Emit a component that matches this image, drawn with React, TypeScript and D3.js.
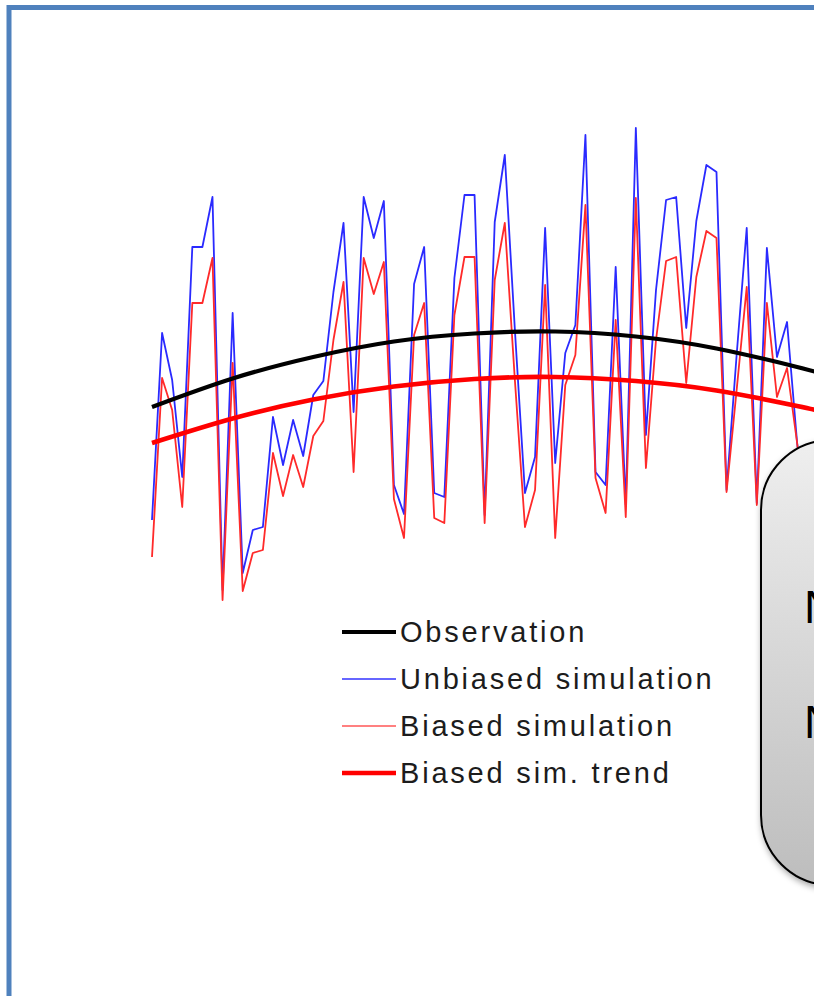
import React from 'react';
import * as d3 from 'd3';

// simulated series (arbitrary units, 0..10)
const unbiased = [
  2.00, 5.74, 4.80, 2.86, 7.46, 7.46, 8.46, 0.60, 6.14, 0.94,
  1.80, 1.86, 4.06, 3.10, 4.00, 3.28, 4.50, 4.78, 6.56, 7.94,
  4.16, 8.46, 7.64, 8.38, 2.70, 2.12, 6.72, 7.46, 2.54, 2.46,
  6.84, 8.50, 8.50, 2.10, 7.96, 9.30, 5.80, 2.54, 3.26, 7.84,
  3.14, 5.34, 5.90, 9.70, 2.96, 2.70, 7.06, 2.30, 9.84, 3.70,
  6.60, 8.40, 8.46, 5.84, 7.98, 9.10, 8.96, 2.60, 5.30, 7.84,
  2.34, 7.44, 5.26, 5.96, 3.54, 2.00,
];

const biased = [
  1.26, 4.84, 4.20, 2.26, 6.34, 6.34, 7.24, 0.40, 5.14, 0.58,
  1.34, 1.40, 3.34, 2.48, 3.30, 2.66, 3.68, 3.98, 5.60, 6.76,
  2.96, 7.24, 6.52, 7.16, 2.42, 1.64, 5.70, 6.34, 2.04, 1.94,
  6.10, 7.26, 7.26, 1.94, 6.80, 7.94, 4.80, 1.86, 2.60, 6.70,
  1.64, 4.70, 5.30, 8.30, 2.84, 2.14, 6.00, 2.06, 8.44, 3.04,
  5.60, 7.18, 7.26, 4.74, 6.86, 7.78, 7.64, 2.56, 4.60, 6.66,
  2.30, 6.34, 4.46, 5.04, 3.54, 1.80,
];

// smooth trends, sampled at these steps
const trendSteps = [0, 8, 16, 24, 32, 40, 48, 56, 64, 66];
const observation = [4.26, 4.83, 5.26, 5.57, 5.73, 5.77, 5.67, 5.43, 5.06, 4.95];
const biasedTrend = [3.54, 4.03, 4.41, 4.67, 4.82, 4.86, 4.78, 4.59, 4.28, 4.19];

const legendLabels = ['Observation', 'Unbiased simulation', 'Biased simulation', 'Biased sim. trend'];
const legendColors = ['#000000', '#3333ff', '#ff8080', '#ff0000'];
const legendWidths = [4, 1.6, 2, 4.5];

const boxLines = ['N', 'N'];

export default function App() {
  const width = 814;
  const height = 996;

  const x = d3.scaleLinear().domain([0, 65]).range([152, 152 + 65 * 10.08]);
  const y = d3.scaleLinear().domain([0, 10]).range([620, 120]);

  const simLine = d3.line<number>()
    .x((_, i) => x(i))
    .y(d => y(d));

  const trendLine = d3.line<number>()
    .x((_, i) => x(trendSteps[i]))
    .y(d => y(d))
    .curve(d3.curveNatural);

  const font = '"Liberation Sans", Arial, Helvetica, sans-serif';

  return (
    <svg width={width} height={height} style={{ position: 'absolute', left: 0, top: 0 }}>
      <defs>
        <linearGradient id="boxFill" x1="0" y1="0" x2="0" y2="1">
          <stop offset="0" stopColor="#efefef" />
          <stop offset="1" stopColor="#bdbdbd" />
        </linearGradient>
        <filter id="shadow" x="-20%" y="-20%" width="140%" height="140%">
          <feDropShadow dx="1" dy="3" stdDeviation="3" floodColor="#000" floodOpacity="0.35" />
        </filter>
      </defs>

      <rect x={0} y={0} width={width} height={height} fill="#fff" />
      <rect x={9} y={7.5} width={900} height={1100} fill="none" stroke="#4f81bd" strokeWidth={5} />

      <path d={simLine(unbiased) || ''} fill="none" stroke="#2a2aff" strokeWidth={1.8} strokeLinejoin="round" />
      <path d={simLine(biased) || ''} fill="none" stroke="#ff2a2a" strokeWidth={1.8} strokeLinejoin="round" />
      <path d={trendLine(observation) || ''} fill="none" stroke="#000" strokeWidth={4.2} />
      <path d={trendLine(biasedTrend) || ''} fill="none" stroke="#ff0000" strokeWidth={4.6} />

      <g fontFamily={font} fontSize={29} fill="#1c1c1c">
        {legendLabels.map((label, i) => {
          const cy = 632 + i * 47;
          return (
            <g key={label}>
              <line x1={342} x2={396} y1={cy} y2={cy} stroke={legendColors[i]} strokeWidth={legendWidths[i]} />
              <text x={400} y={cy + 10} letterSpacing={2.8}>{label}</text>
            </g>
          );
        })}
      </g>

      <rect x={761} y={440} width={220} height={445} rx={70} ry={70}
        fill="url(#boxFill)" stroke="#000" strokeWidth={2} filter="url(#shadow)" />
      <g fontFamily={font} fontSize={46} fill="#000">
        {boxLines.map((t, i) => (
          <text key={i} x={804} y={623 + i * 115}>{t}</text>
        ))}
      </g>
    </svg>
  );
}
